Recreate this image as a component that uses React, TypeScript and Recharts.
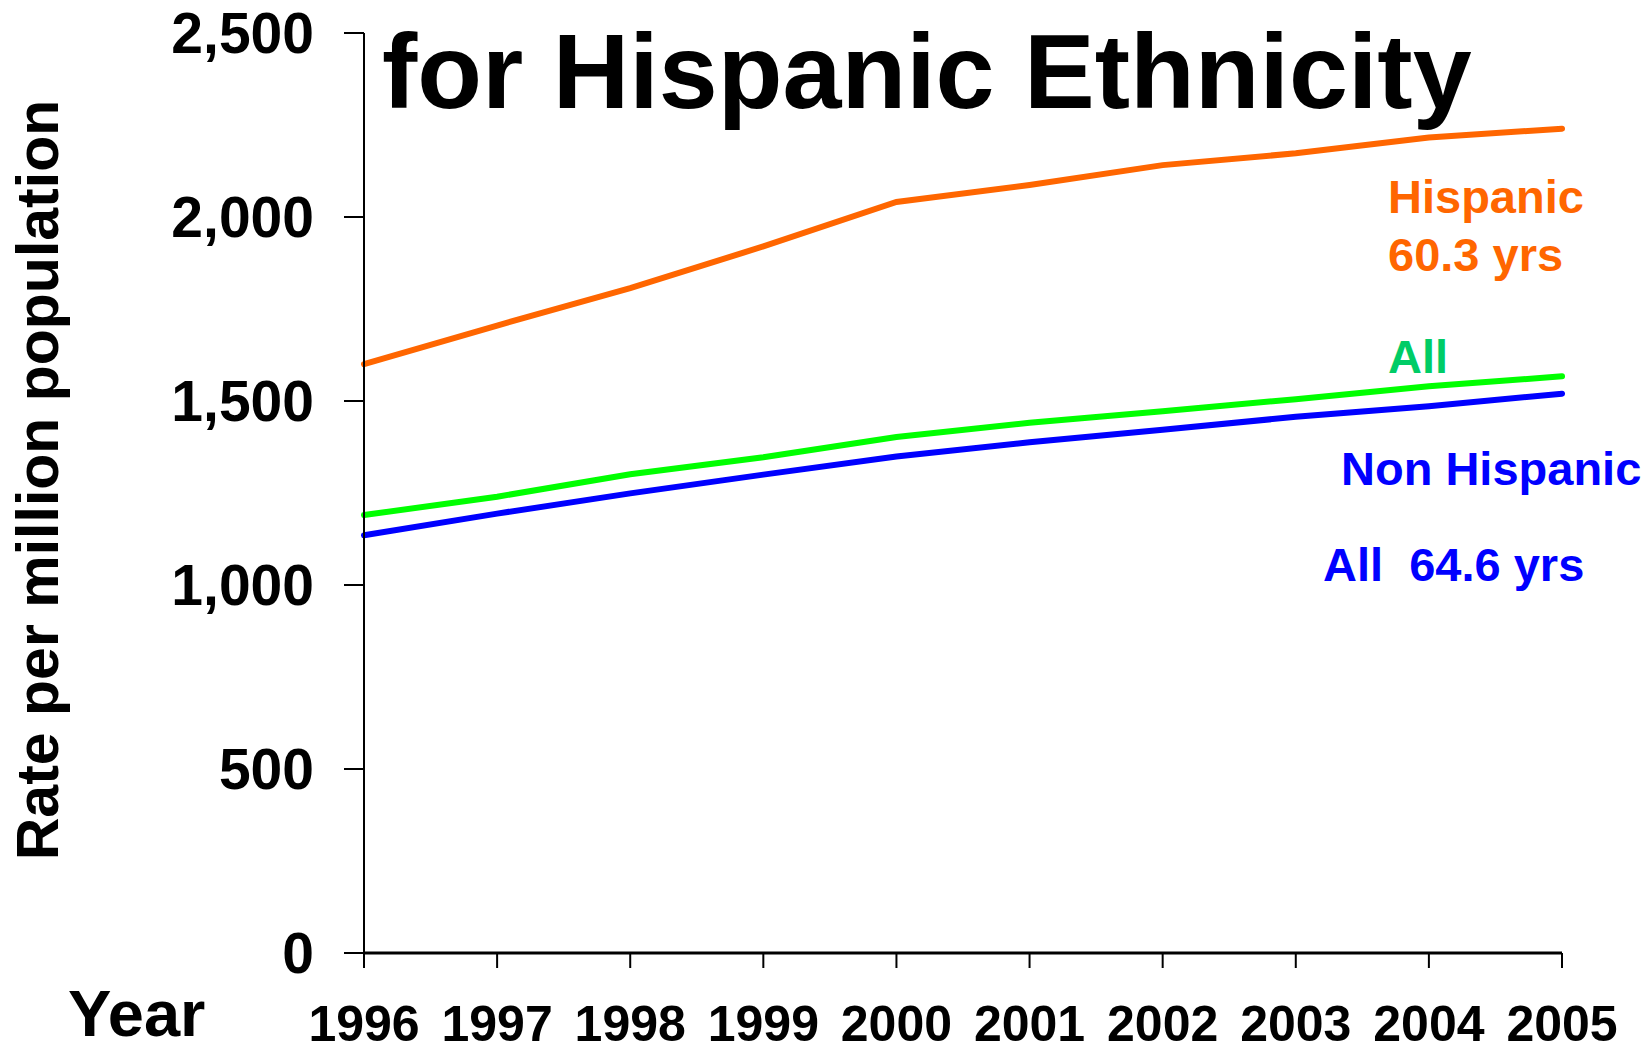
import { LineChart, Line, XAxis, YAxis } from "recharts";

const years = [1996, 1997, 1998, 1999, 2000, 2001, 2002, 2003, 2004, 2005];
const hispanic = [1600, 1705, 1807, 1920, 2041, 2087, 2141, 2173, 2216, 2240];
const allPatients = [1190, 1240, 1301, 1347, 1402, 1441, 1472, 1505, 1540, 1567];
const nonHispanic = [1135, 1194, 1249, 1300, 1349, 1388, 1422, 1457, 1486, 1520];
const rateTicks = [0, 500, 1000, 1500, 2000, 2500];

const data = years.map((year, i) => ({
  year,
  hispanic: hispanic[i],
  all: allPatients[i],
  nonHispanic: nonHispanic[i],
}));

const FONT = '"Liberation Sans", Arial, Helvetica, sans-serif';
const W = 1649;
const H = 1047;

export default function App() {
  return (
    <div style={{ position: "fixed", left: 0, top: 0, width: W, height: H, background: "#fff" }}>
      <LineChart
        width={W}
        height={H}
        data={data}
        margin={{ top: 33, right: 87, left: 0, bottom: 0 }}
        style={{ fontFamily: FONT }}
      >
        <XAxis
          dataKey="year"
          type="number"
          domain={[1996, 2005]}
          ticks={years}
          height={94}
          axisLine={{ stroke: "#000", strokeWidth: 3 }}
          tickLine={{ stroke: "#000", strokeWidth: 2 }}
          tickSize={15}
          tickMargin={37}
          tick={{ fill: "#000", fontSize: 50, fontWeight: 700, fontFamily: FONT }}
          interval={0}
        />
        <YAxis
          type="number"
          domain={[0, 2500]}
          ticks={rateTicks}
          width={364}
          axisLine={{ stroke: "#000", strokeWidth: 2 }}
          tickLine={{ stroke: "#000", strokeWidth: 2 }}
          tickSize={20}
          tickMargin={30}
          tick={{ fill: "#000", fontSize: 57, fontWeight: 700, fontFamily: FONT }}
          tickFormatter={(v: number) => v.toLocaleString("en-US")}
          interval={0}
        />
        <Line dataKey="hispanic" stroke="#FF6600" strokeWidth={6} dot={false} strokeLinecap="round" isAnimationActive={false} />
        <Line dataKey="all" stroke="#00FF00" strokeWidth={6} dot={false} strokeLinecap="round" isAnimationActive={false} />
        <Line dataKey="nonHispanic" stroke="#0000FF" strokeWidth={6} dot={false} strokeLinecap="round" isAnimationActive={false} />
      </LineChart>

      {/* title, axis captions and series notes */}
      <svg
        width={W}
        height={H}
        style={{ position: "absolute", left: 0, top: 0, pointerEvents: "none", fontFamily: FONT, fontWeight: 700 }}
      >
        <text x={382} y={108} fontSize={106} fill="#000">for Hispanic Ethnicity</text>
        <text x={0} y={0} fontSize={59} fill="#000" textAnchor="middle" transform="translate(58,480) rotate(-90)">
          Rate per million population
        </text>
        <text x={68} y={1036} fontSize={65} fill="#000">Year</text>
        <text x={1388} y={213} fontSize={47} fill="#FF6600">Hispanic</text>
        <text x={1388} y={271} fontSize={47} fill="#FF6600">60.3 yrs</text>
        <text x={1388} y={373} fontSize={47} fill="#00CC66">All</text>
        <text x={1341} y={485} fontSize={47} fill="#0000FF">Non Hispanic</text>
        <text x={1323} y={581} fontSize={47} fill="#0000FF" style={{ whiteSpace: "pre" }}>All  64.6 yrs</text>
      </svg>
    </div>
  );
}
